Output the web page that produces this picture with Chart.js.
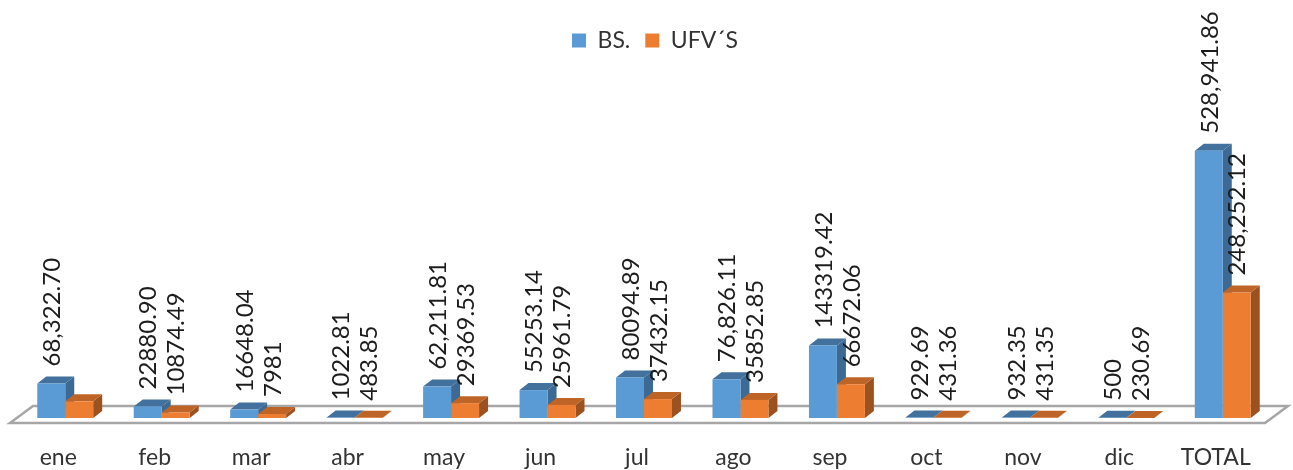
<!DOCTYPE html>
<html><head><meta charset="utf-8">
<style>html,body{margin:0;padding:0;background:#fff}#w{width:1293px;height:470px}</style>
<script src="https://cdn.jsdelivr.net/npm/chart.js@4"></script>
</head><body><div id="w"><canvas id="c"></canvas></div>
<script>
const categories=['ene','feb','mar','abr','may','jun','jul','ago','sep','oct','nov','dic','TOTAL'];
const bsValues=[68322.70,22880.90,16648.04,1022.81,62211.81,55253.14,80094.89,76826.11,143319.42,929.69,932.35,500,528941.86];
const ufvValues=[33000,10874.49,7981,483.85,29369.53,25961.79,37432.15,35852.85,66672.06,431.36,431.35,230.69,248252.12];
const bsLabels=['68,322.70','22880.90','16648.04','1022.81','62,211.81','55253.14','80094.89','76,826.11','143319.42','929.69','932.35','500','528,941.86'];
const ufvLabels=['','10874.49','7981','483.85','29369.53','25961.79','37432.15','35852.85','66672.06','431.36','431.35','230.69','248,252.12'];
const seriesNames=['BS.','UFV´S'];
const FONT='Lato';
const palette=[{front:'#5B9BD5',top:'#41719C',side:'#3C6A94'},{front:'#ED7D31',top:'#BE6427',side:'#9C5220'}];
const DX=9,DY=7;
const depth={id:'depth',
 afterLayout(ch){ch.legend.left+=11;ch.legend.right+=11;},
 beforeDatasetsDraw(ch){
  const c=ch.ctx,a=ch.chartArea,y0=a.bottom;
  c.save();c.strokeStyle='#A6A6A6';c.lineWidth=2.5;c.fillStyle='#fff';
  c.beginPath();c.moveTo(a.left-7,y0+5);c.lineTo(a.left+16,y0-12);c.lineTo(a.right+17,y0-12);c.lineTo(a.right-6,y0+5);c.closePath();c.fill();c.stroke();
  ch.data.datasets.forEach((d,i)=>{
   const p=palette[i];
   ch.getDatasetMeta(i).data.forEach(b=>{
    const l=b.x-b.width/2,r=b.x+b.width/2,t=b.y,bm=b.base;
    c.fillStyle=p.side;c.beginPath();c.moveTo(r,t);c.lineTo(r+DX,t-DY);c.lineTo(r+DX,bm-DY);c.lineTo(r,bm);c.closePath();c.fill();
    c.fillStyle=p.top;c.beginPath();c.moveTo(l,t);c.lineTo(l+DX,t-DY);c.lineTo(r+DX,t-DY);c.lineTo(r,t);c.closePath();c.fill();
   });
  });
  c.restore();
 },
 afterDatasetsDraw(ch){
  const c=ch.ctx;
  c.save();c.fillStyle='#1c1c1c';c.font='24px '+FONT;c.textAlign='left';c.textBaseline='middle';
  [bsLabels,ufvLabels].forEach((labs,i)=>{
   ch.getDatasetMeta(i).data.forEach((b,k)=>{
    const yb=Math.min(b.y-17,ch.chartArea.bottom-16);
    c.save();c.translate(b.x+1,yb);c.rotate(-Math.PI/2);c.fillText(labs[k],0,0);c.restore();
   });
  });
  c.restore();
 }};
new Chart(document.getElementById('c'),{
 type:'bar',
 data:{labels:categories,datasets:[
  {label:seriesNames[0],data:bsValues,backgroundColor:palette[0].front,borderWidth:0},
  {label:seriesNames[1],data:ufvValues,backgroundColor:palette[1].front,borderWidth:0}]},
 options:{responsive:true,maintainAspectRatio:false,animation:false,
  layout:{padding:{left:17,right:22,top:14,bottom:0}},
  datasets:{bar:{categoryPercentage:0.58,barPercentage:1}},
  plugins:{tooltip:{enabled:false},
   legend:{position:'top',labels:{boxWidth:14,boxHeight:14,padding:15,color:'#333',font:{family:FONT,size:23}}}},
  scales:{
   x:{grid:{display:false,drawTicks:false},border:{display:false},
      afterFit(s){s.height=52;},
      ticks:{padding:26,labelOffset:-7,maxRotation:0,autoSkip:false,color:'#333',font:{family:FONT,size:23}}},
   y:{display:false,min:0,max:704600}}},
 plugins:[depth]});
</script></body></html>
